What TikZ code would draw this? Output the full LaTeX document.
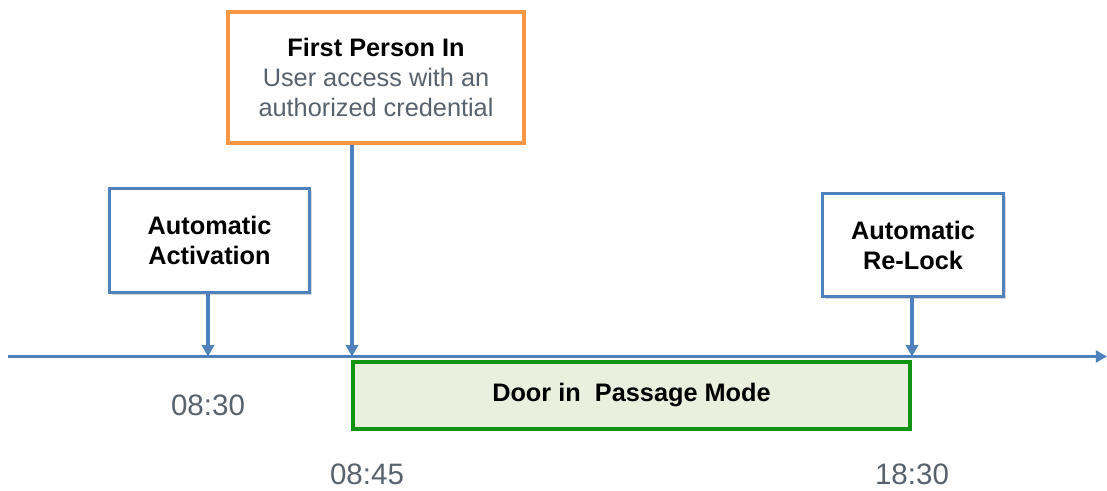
\documentclass[tikz,border=0pt]{standalone}
\usepackage{fontspec}
\setmainfont{Liberation Sans}
\usetikzlibrary{arrows.meta,shadows}
\definecolor{lineblue}{RGB}{79,129,189}
\definecolor{boxorange}{RGB}{247,150,70}
\definecolor{boxgreen}{RGB}{20,148,20}
\definecolor{modefill}{RGB}{235,240,222}
\definecolor{timegray}{RGB}{88,98,108}

\begin{document}
\begin{tikzpicture}[x=0.025cm, y=-0.025cm, >={Triangle[length=8pt,width=8.5pt]},
  every node/.style={font=\fontsize{18}{21.3}\selectfont, align=center, inner sep=0pt},
  boxshadow/.style={drop shadow={shadow xshift=1.5pt, shadow yshift=-1.5pt, opacity=0.3}},
  eventbox/.style={draw=lineblue, line width=2.3pt, fill=white, boxshadow},
  timelbl/.style={font=\fontsize{21}{25}\selectfont, text=timegray},
  link/.style={->, draw=lineblue, line width=2.3pt}]
  \useasboundingbox (0,0) rectangle (1107,491);

  % timeline
  \coordinate (tl) at (8,356.5);
  \coordinate (tr) at (1107,356.5);
  \coordinate (t830) at (208,356.5);
  \coordinate (t845) at (352,356.5);
  \coordinate (t1830) at (912,356.5);
  \draw[link] (tl) -- (tr);

  % events
  \node[draw=boxorange, line width=3pt, fill=white, boxshadow,
        minimum width=7.4cm, minimum height=3.275cm] (fpi) at (376,77.5)
    {\textbf{First Person In}\\{\color{timegray}User access with an}\\{\color{timegray}authorized credential}};
  \node[eventbox, minimum width=5cm, minimum height=2.6cm] (act) at (209.5,240.5)
    {\textbf{Automatic}\\\textbf{Activation}};
  \node[eventbox, minimum width=4.525cm, minimum height=2.575cm] (rlk) at (913,245)
    {\textbf{Automatic}\\\textbf{Re-Lock}};

  % passage mode
  \node[draw=boxgreen, line width=3pt, fill=modefill, boxshadow,
        minimum width=13.925cm, minimum height=1.675cm] (pm) at (631.5,395.5)
    {\textbf{Door in~ Passage Mode}};

  \draw[link] (act.south -| t830) -- (t830);
  \draw[link] (fpi.south -| t845) -- (t845);
  \draw[link] (rlk.south -| t1830) -- (t1830);

  % times
  \node[timelbl] (h830) at (208,405) {08:30};
  \node[timelbl] (h845) at (367,474) {08:45};
  \node[timelbl] (h1830) at (912,474) {18:30};
\end{tikzpicture}
\end{document}
